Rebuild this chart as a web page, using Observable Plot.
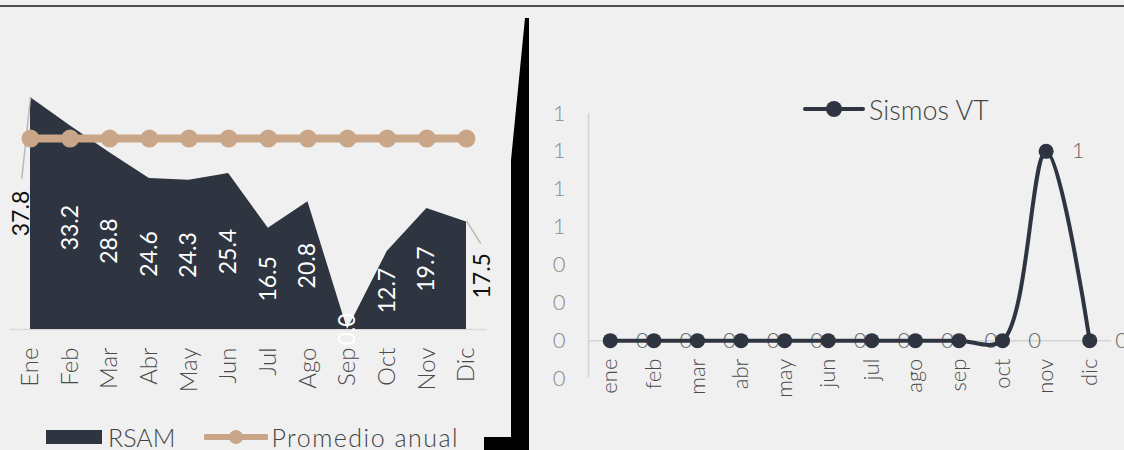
<!DOCTYPE html>
<html>
<head>
<meta charset="utf-8">
<script src="https://cdn.jsdelivr.net/npm/d3@7"></script>
<script src="https://cdn.jsdelivr.net/npm/@observablehq/plot@0.6"></script>
<style>
  html, body { margin: 0; padding: 0; background: #f0f0f0; }
  #wrap { position: relative; width: 1124px; height: 450px; overflow: hidden; background: #f0f0f0; font-family: Lato, "Open Sans", sans-serif; }
  #topline { position: absolute; left: 0; top: 5px; width: 1124px; height: 2px; background: #505050; }
  #left, #right { position: absolute; top: 0; }
  #left { left: 0; }
  #right { left: 530px; }
  .leg { position: absolute; display: flex; align-items: center; color: #444; white-space: nowrap; font-weight: 300; line-height: 1; }
  #deco { position: absolute; left: 0; top: 0; pointer-events: none; }
</style>
</head>
<body>
<div id="wrap">
  <div id="topline"></div>
  <div id="left"></div>
  <div id="right"></div>
  <svg id="deco" width="1124" height="450">
    <polygon points="525,18 529,18 529,450 484,450 484,437 511,437 511,160" fill="#000"></polygon>
  </svg>
  <div class="leg" id="legL" style="left:46px; top:424px; height:26px; font-size:25px;">
    <span style="display:inline-block;width:56px;height:14px;background:#2e3541;margin-right:6px;"></span>
    <span>RSAM</span>
    <svg width="64" height="20" style="margin-left:29px;margin-right:3px;">
      <line x1="2" y1="10" x2="62" y2="10" stroke="#c9a688" stroke-width="6" stroke-linecap="round"></line>
      <circle cx="32" cy="10" r="7" fill="#c9a688"></circle>
    </svg>
    <span style="letter-spacing:1.5px;">Promedio anual</span>
  </div>
  <div class="leg" id="legR" style="left:803px; top:95px; height:28px; font-size:27px;">
    <svg width="62" height="20" style="margin-right:4px;">
      <line x1="2" y1="10" x2="60" y2="10" stroke="#2e3541" stroke-width="4" stroke-linecap="round"></line>
      <circle cx="31" cy="10" r="8" fill="#2e3541"></circle>
    </svg>
    <span>Sismos VT</span>
  </div>
</div>
<script>
// ---- data ----
const mesesRSAM = ["Ene","Feb","Mar","Abr","May","Jun","Jul","Ago","Sep","Oct","Nov","Dic"];
const rsam = [37.8, 33.2, 28.8, 24.6, 24.3, 25.4, 16.5, 20.8, 0, 12.7, 19.7, 17.5];
const promedioAnual = [31.1, 31.1, 31.1, 31.1, 31.1, 31.1, 31.1, 31.1, 31.1, 31.1, 31.1, 31.1];

const mesesVT = ["ene","feb","mar","abr","may","jun","jul","ago","sep","oct","nov","dic"];
const sismosVT = [0, 0, 0, 0, 0, 0, 0, 0, 0, 0, 1, 0];
const yTicksVT = [-0.2, 0, 0.2, 0.4, 0.6, 0.8, 1.0, 1.2];

// leader-line label positions for the outside labels (data units)
const leaders = [
  {i1: 0, v1: 37.8, i2: -0.22, v2: 24.6},
  {i1: 11, v1: 17.7, i2: 11.36, v2: 14.0}
];

const AREA = "#2e3541";
const TAN = "#c9a688";
const FONT = "Lato, 'Open Sans', sans-serif";

const rsamData = mesesRSAM.map((m, i) => ({i, mes: m, v: rsam[i], p: promedioAnual[i]}));
const vtData = mesesVT.map((m, i) => ({i, mes: m, v: sismosVT[i]}));

// ---- left chart ----
const left = Plot.plot({
  width: 500, height: 420,
  marginLeft: 10, marginRight: 13, marginTop: 0, marginBottom: 0,
  x: {type: "linear", domain: [0, 11], range: [30, 466], axis: null},
  y: {domain: [0, 37.8], range: [329, 97], axis: null},
  style: {background: "transparent", fontFamily: FONT, overflow: "visible"},
  marks: [
    Plot.ruleY([0], {stroke: "#d9d9d9", strokeWidth: 1.5}),
    Plot.areaY(rsamData, {x: "i", y: "v", fill: AREA}),
    Plot.link(leaders, {x1: "i1", y1: "v1", x2: "i2", y2: "v2", stroke: "#b8b8b8", strokeWidth: 1.5}),
    Plot.line(rsamData, {x: "i", y: "p", stroke: TAN, strokeWidth: 8}),
    Plot.dot(rsamData, {x: "i", y: "p", r: 9, fill: TAN}),
    Plot.text(rsamData.filter(d => d.i > 0 && d.i < 11), {
      x: "i", y: d => d.v / 2, text: d => d.v.toFixed(1), rotate: -90,
      fill: "white", fontSize: 23
    }),
    Plot.text(rsamData.filter(d => d.i === 0), {
      x: "i", y: d => d.v / 2, text: d => d.v.toFixed(1), rotate: -90,
      fill: "#111", fontSize: 23, dx: -9
    }),
    Plot.text(rsamData.filter(d => d.i === 11), {
      x: "i", y: d => d.v / 2, text: d => d.v.toFixed(1), rotate: -90,
      fill: "#111", fontSize: 23, dx: 16
    }),
    Plot.text(rsamData, {
      x: "i", y: 0, text: "mes", rotate: -90, textAnchor: "end", dy: 18,
      fill: "#4a4a4a", fontSize: 24, fontWeight: 300
    })
  ]
});
document.getElementById("left").appendChild(left);

// ---- right chart ----
const right = Plot.plot({
  width: 594, height: 420,
  marginLeft: 58, marginRight: 13, marginTop: 0, marginBottom: 0,
  x: {type: "linear", domain: [-0.5, 11.5], range: [58, 581], axis: null},
  y: {domain: [-0.2, 1.2], range: [378, 113], axis: null},
  style: {background: "transparent", fontFamily: FONT, overflow: "visible"},
  marks: [
    Plot.axisY({ticks: yTicksVT, tickFormat: d => String(Math.round(d)), tickSize: 0, tickPadding: 23, fontSize: 22, fontWeight: 300, color: "#8a8a8a", label: null}),
    Plot.ruleX([-0.5], {y1: -0.2, y2: 1.2, stroke: "#d4d4d4", strokeWidth: 1.5}),
    Plot.ruleY([0], {x1: -0.5, x2: 11.5, stroke: "#d4d4d4", strokeWidth: 1.5}),
    Plot.text(vtData, {x: "i", y: "v", text: d => String(d.v), dx: 32, fill: "#666", fontSize: 22, fontWeight: 300}),
    Plot.line(vtData, {x: "i", y: "v", curve: "catmull-rom", stroke: AREA, strokeWidth: 4}),
    Plot.dot(vtData, {x: "i", y: "v", r: 7.5, fill: AREA}),
    Plot.text(vtData, {
      x: "i", y: 0, text: "mes", rotate: -90, textAnchor: "end", dy: 18,
      fill: "#4a4a4a", fontSize: 22, fontWeight: 300
    })
  ]
});
document.getElementById("right").appendChild(right);
</script>
</body>
</html>
